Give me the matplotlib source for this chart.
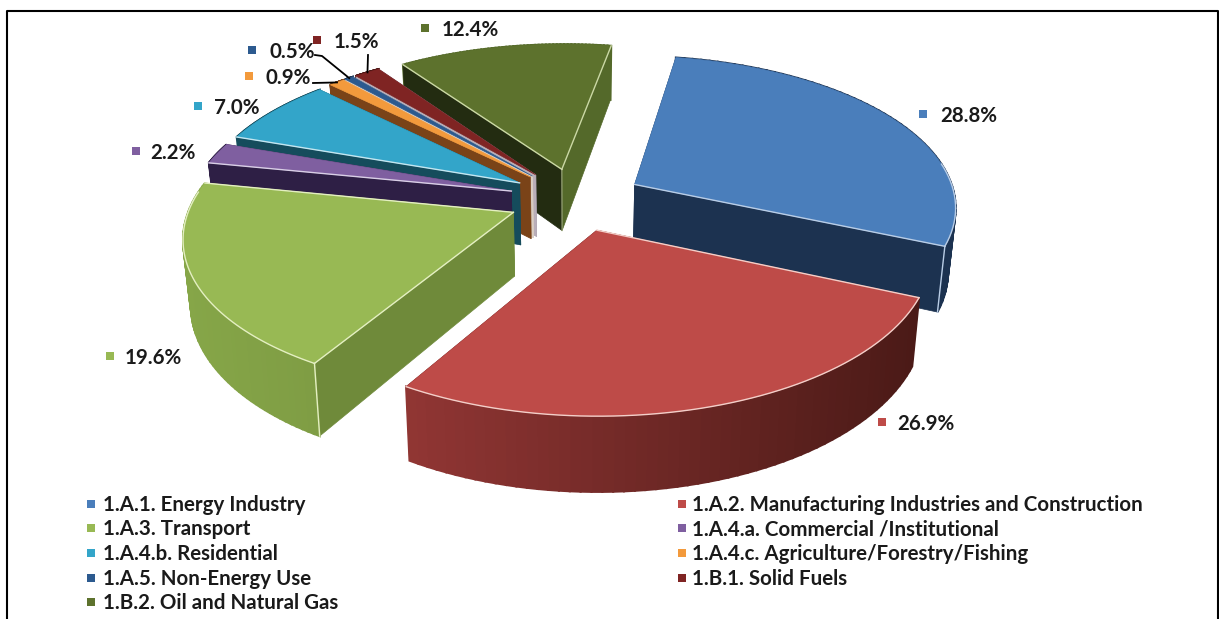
import numpy as np
import matplotlib
matplotlib.use('Agg')
import matplotlib.pyplot as plt
from matplotlib.colors import to_rgb

plt.rcParams['font.family'] = ['Lato', 'DejaVu Sans']

categories = ['1.A.1. Energy Industry', '1.A.2. Manufacturing Industries and Construction',
              '1.A.3. Transport', '1.A.4.a. Commercial /Institutional',
              '1.A.4.b. Residential', '1.A.4.c. Agriculture/Forestry/Fishing',
              '1.A.5. Non-Energy Use', '1.B.1. Solid Fuels', '1.B.2. Oil and Natural Gas']
shares = [28.8, 26.9, 19.6, 2.2, 7.0, 0.9, 0.5, 1.5, 12.4]

top_col = ['#4a7ebb', '#be4b48', '#98b954', '#7f5fa0', '#33a5c9', '#f39a3c', '#2c5a8f', '#7f2423', '#5d722d']
start_col = ['#1c3250', '#4d1a18', '#6f8a3a', '#2e1f45', '#154c5c', '#7a4318', '#d9cdc2', '#b9aeb8', '#232c11']
end_col = ['#1c3250', '#4d1a18', '#6f8a3a', '#2e1f45', '#154c5c', '#d9cdc2', '#d9cdc2', '#8f86a0', '#54692a']
rim_a = ['#1c3250', '#4b1a17', '#7f9d44', '#2e1f45', '#154c5c', '#7a4318', '#1b3555', '#4d1514', '#54692a']
rim_b = ['#1c3250', '#913634', '#86a648', '#2e1f45', '#154c5c', '#7a4318', '#1b3555', '#4d1514', '#54692a']
pale = ['#b9cde6', '#f3cfc9', '#e4efc2', '#d9cfe6', '#c4e6f0', '#f8dcb8', '#a9c0da', '#e6c2c0', '#cbd8a5']
start_line = [0, 1, 1, 1, 1, 0, 0, 0, 1]
end_line = [1, 0, 1, 0, 0, 0, 0, 0, 1]
front_rim = [1, 1, 1, 0, 0, 0, 0, 0, 0]

# geometry of the tilted disc, fitted to the reference
CX, CY, RX, RY, PERSP, SHEAR = 575.9, 199.3, 321.4, 150.4, 0.14, 1.8
ROTATION, EXPLODE, HEIGHT, TAPER = 9.65, 0.21, 63, 0.02

cum = np.cumsum([0] + shares) / sum(shares) * 360 + ROTATION
draw_order = [8, 7, 6, 5, 4, 3, 2, 0, 1]


def top_xy(X, Y):
    w = 1 + PERSP * Y
    return CX + (RX * X + SHEAR * Y) / w, CY - RY * Y / w


def bottom_xy(X, Y):
    sx, sy = top_xy(X, Y)
    return sx + (CX - sx) * TAPER, sy + HEIGHT / (1 + PERSP * Y)


def slice_pts(i, n=60):
    t = np.radians(np.linspace(cum[i], cum[i + 1], n))
    tm = np.radians((cum[i] + cum[i + 1]) / 2)
    ex, ey = EXPLODE * np.sin(tm), EXPLODE * np.cos(tm)
    return t, ex, ey, ex + np.sin(t), ey + np.cos(t)


def side(ax, X, Y, colour, lw=0.5):
    x0, y0 = top_xy(X, Y)
    x1, y1 = bottom_xy(X, Y)
    ax.fill(np.r_[x0, x1[::-1]], np.r_[y0, y1[::-1]], color=colour, lw=lw)


def rim(ax, i, X, Y):
    # rim shading runs left to right across the slice
    ca, cb = np.array(to_rgb(rim_a[i])), np.array(to_rgb(rim_b[i]))
    sx = top_xy(X, Y)[0]
    span = max(sx.max() - sx.min(), 1)
    for k in range(len(X) - 1):
        f = (sx[k] - sx.min()) / span
        side(ax, X[k:k + 2], Y[k:k + 2], ca * f + cb * (1 - f), lw=1.5)


fig = plt.figure(figsize=(12.19, 6.19), dpi=100)
ax = fig.add_axes([0, 0, 1, 1])
ax.set_xlim(0, 1219)
ax.set_ylim(619, 0)
ax.axis('off')

ax.plot([6.5, 6.5, 1217.5, 1217.5], [619, 11, 11, 619], color='black', lw=1.5)

for i in draw_order:
    t, ex, ey, X, Y = slice_pts(i)
    if not front_rim[i]:
        rim(ax, i, X, Y)
    side(ax, np.array([ex, X[-1]]), np.array([ey, Y[-1]]), end_col[i])
    side(ax, np.array([ex, X[0]]), np.array([ey, Y[0]]), start_col[i])
    if front_rim[i]:
        rim(ax, i, X, Y)
    px, py = top_xy(np.r_[ex, X], np.r_[ey, Y])
    ax.fill(px, py, color=top_col[i], lw=0.5)
    # light edges as in the spreadsheet bevel
    front = np.cos(t) < 0.15
    if front.any():
        ax.plot(px[1:][front], py[1:][front], color=pale[i], lw=1)
    if start_line[i]:
        ax.plot(px[:2], py[:2], color=pale[i], lw=1)
    if end_line[i]:
        ax.plot([px[0], px[-1]], [py[0], py[-1]], color=pale[i], lw=1)

# upright corner edges, picked by slice and end of its rim
for i, j in [(0, -1), (2, 0)]:
    t, ex, ey, X, Y = slice_pts(i)
    ax.plot([top_xy(X[j], Y[j])[0], bottom_xy(X[j], Y[j])[0]],
            [top_xy(X[j], Y[j])[1], bottom_xy(X[j], Y[j])[1]], color=pale[i], lw=1)
t, ex, ey, X, Y = slice_pts(8)
ax.plot([top_xy(ex, ey)[0], bottom_xy(ex, ey)[0]], [top_xy(ex, ey)[1], bottom_xy(ex, ey)[1]],
        color=pale[8], lw=1, alpha=0.6)

# data labels: slice, marker x, text x, y
label_pos = [(0, 923, 940, 115), (1, 882, 897, 423), (2, 110, 125, 357), (3, 136, 150, 152),
             (4, 198, 214, 107), (5, 249, 265, 77), (6, 252, 269, 51), (7, 317, 334, 41), (8, 425, 442, 29)]
for i, mx, tx, ly in label_pos:
    ax.scatter(mx, ly - 1, marker='s', s=32, color=top_col[i], lw=0)
    ax.text(tx, ly + 1, f'{shares[i]:.1f}%', fontsize=14.8, fontweight='bold', color='#1a1a1a',
            ha='left', va='center')

# leader lines to the thin slices
for i, xs, ys in [(5, [313], [83]), (6, [315, 322], [55, 56]), (7, [368], [55])]:
    t, ex, ey, X, Y = slice_pts(i)
    ax.plot(xs + [top_xy(X[30], Y[30])[0]], ys + [top_xy(X[30], Y[30])[1]], color='black', lw=1.3)

legend_x = [(91, 103), (682, 692)]
legend_y = [504, 528, 553, 578, 602]
for i, name in enumerate(categories):
    mx, tx = legend_x[i % 2]
    ly = legend_y[i // 2]
    ax.scatter(mx, ly, marker='s', s=32, color=top_col[i], lw=0)
    ax.text(tx, ly + 1, name, fontsize=14.8, fontweight='bold', color='#1a1a1a', ha='left', va='center')

fig.savefig('out.png', dpi=100)
